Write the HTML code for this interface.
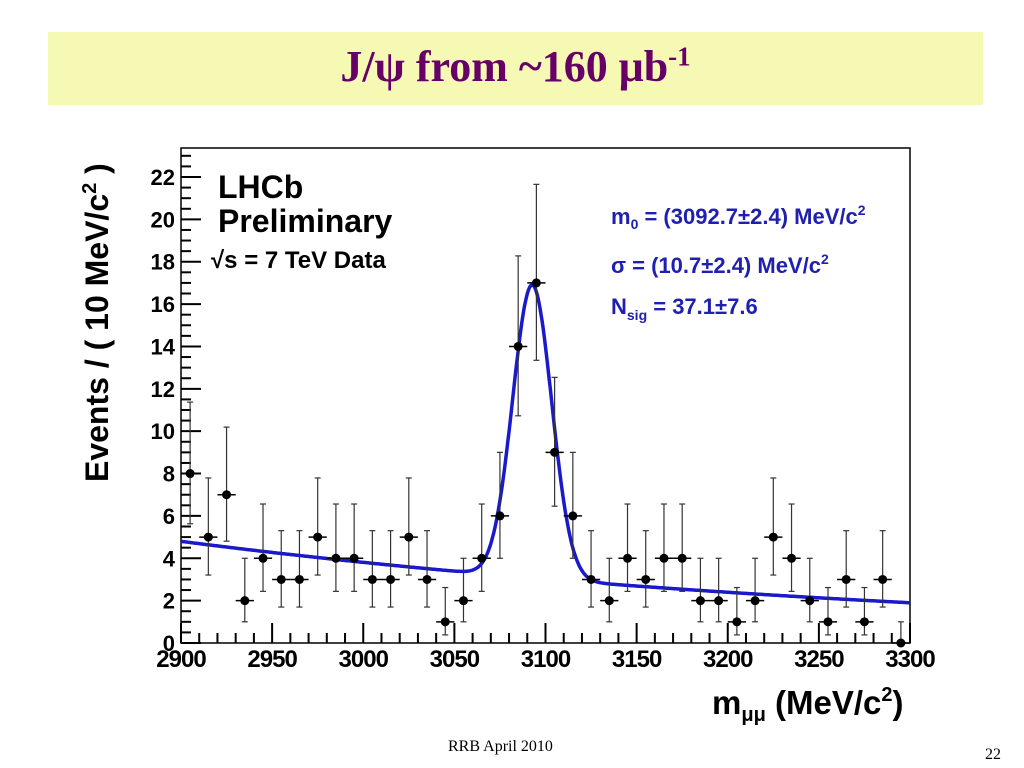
<!DOCTYPE html>
<html><head><meta charset="utf-8"><style>
body{margin:0;width:1024px;height:768px;background:#fff;position:relative;overflow:hidden;font-family:"Liberation Sans",sans-serif}
#title{position:absolute;left:48px;top:32px;width:935px;height:73px;background:#f6f9b3;text-align:center;font-family:"Liberation Serif",serif;font-weight:bold;font-size:44px;color:#660066;line-height:70px}
#foot{position:absolute;left:448px;top:738px;font-family:"Liberation Serif",serif;font-size:16px}
#pnum{position:absolute;left:985px;top:746px;font-family:"Liberation Serif",serif;font-size:16px}
svg{position:absolute;left:0;top:0}
</style></head><body>
<div id="title">J/ψ from ~160 μb<sup style="font-size:27px;line-height:0">-1</sup></div>
<svg id="chart" width="1024" height="768"></svg>
<div id="foot">RRB April 2010</div>
<div id="pnum">22</div>
<script>
const binCenters=[2905,2915,2925,2935,2945,2955,2965,2975,2985,2995,3005,3015,3025,3035,3045,3055,3065,3075,3085,3095,3105,3115,3125,3135,3145,3155,3165,3175,3185,3195,3205,3215,3225,3235,3245,3255,3265,3275,3285,3295];
const counts=[8,5,7,2,4,3,3,5,4,4,3,3,5,3,1,2,4,6,14,17,9,6,3,2,4,3,4,4,2,2,1,2,5,4,2,1,3,1,3,0];
const xTicks=[2900,2950,3000,3050,3100,3150,3200,3250,3300];
const yTicks=[0,2,4,6,8,10,12,14,16,18,20,22];
const fitParams=[3092.7,10.7,37.1];
const bkgEnds=[4.8,1.9];
const NS="http://www.w3.org/2000/svg";
const svg=document.getElementById('chart');
const X0=181,X1=910,Y0=643,YT=148;
const xs=v=>X0+(v-2900)*(X1-X0)/400;
const ys=v=>Y0-v*(Y0-177)/22;
function mk(t,a,p){const e=document.createElementNS(NS,t);for(const k in a)e.setAttribute(k,a[k]);(p||svg).appendChild(e);return e;}
const fr=mk('rect',{x:X0,y:YT,width:X1-X0,height:Y0-YT,fill:'none',stroke:'#000','stroke-width':1.5});


for(let v=0;v<=23.2;v+=0.5){const big=Math.abs(v%2)<1e-6;mk('line',{x1:X0,x2:X0+(big?20:10),y1:ys(v),y2:ys(v),stroke:'#000','stroke-width':2});}
yTicks.forEach(v=>{const t=mk('text',{x:X0-6,y:ys(v)+8,'text-anchor':'end','font-size':22,'font-weight':'bold'});t.textContent=v;

});
for(let v=2900;v<=3300;v+=10){const big=v%50===0;mk('line',{x1:xs(v),x2:xs(v),y1:Y0,y2:Y0-(big?20:10),stroke:'#000','stroke-width':2});}
xTicks.forEach(v=>{const t=mk('text',{x:xs(v),y:Y0+24,'text-anchor':'middle','font-size':24,'font-weight':'bold','letter-spacing':'-1'});t.textContent=v;

});
const k=Math.log(bkgEnds[0]/bkgEnds[1])/400;
const amp=fitParams[2]*10/(Math.sqrt(2*Math.PI)*fitParams[1]);
let d='';for(let m=2900;m<=3300;m+=0.5){const y=bkgEnds[0]*Math.exp(-k*(m-2900))+amp*Math.exp(-0.5*Math.pow((m-fitParams[0])/fitParams[1],2));d+=(d?'L':'M')+xs(m).toFixed(1)+','+ys(y).toFixed(1);}
const fit=mk('path',{d:d,fill:'none',stroke:'#1a1acc','stroke-width':3.5});


binCenters.forEach((c,i)=>{const n=counts[i];const g=mk('g',{});


const s=Math.sqrt(n+0.25);const hi=n+0.5+s,lo=Math.max(0,n+0.5-s);
mk('line',{x1:xs(c),x2:xs(c),y1:ys(hi),y2:ys(lo),stroke:'#333','stroke-width':1.2},g);
mk('line',{x1:xs(c)-3,x2:xs(c)+3,y1:ys(hi),y2:ys(hi),stroke:'#333','stroke-width':1.2},g);
mk('line',{x1:xs(c)-3,x2:xs(c)+3,y1:ys(lo),y2:ys(lo),stroke:'#333','stroke-width':1.2},g);
mk('line',{x1:xs(c-5),x2:xs(c+5),y1:ys(n),y2:ys(n),stroke:'#000','stroke-width':1.5},g);
mk('circle',{cx:xs(c),cy:ys(n),r:4.5,fill:'#000'},g);});
function txt(x,y,s,html,name,extra){const t=mk('text',Object.assign({x:x,y:y,'font-size':s,'font-weight':'bold'},extra||{}));t.innerHTML=html;

return t;}
txt(218,198,32,'LHCb','lhcb-label');
txt(218,232,32,'Preliminary','preliminary-label');
txt(211,268,24,'√s = 7 TeV Data','energy-label');
txt(611,224,22,'m<tspan font-size="14" dy="5">0</tspan><tspan dy="-5"> = (3092.7±2.4) MeV/c</tspan><tspan font-size="14" dy="-9">2</tspan>','m0-annotation',{fill:'#2020b0'});
txt(611,273,22,'σ = (10.7±2.4) MeV/c<tspan font-size="14" dy="-9">2</tspan>','sigma-annotation',{fill:'#2020b0'});
txt(611,314,22,'N<tspan font-size="14" dy="6">sig</tspan><tspan dy="-6"> = 37.1±7.6</tspan>','nsig-annotation',{fill:'#2020b0'});
txt(712,714,33,'m<tspan font-size="20" dy="7">μμ</tspan><tspan dy="-7"> (MeV/c</tspan><tspan font-size="20" dy="-13">2</tspan><tspan dy="13">)</tspan>','x-axis-title');
txt(0,0,32,'Events / ( 10 MeV/c<tspan font-size="20" dy="-12">2</tspan><tspan dy="12"> )</tspan>','y-axis-title',{transform:'translate(108,482) rotate(-90)'});
</script>
</body></html>
